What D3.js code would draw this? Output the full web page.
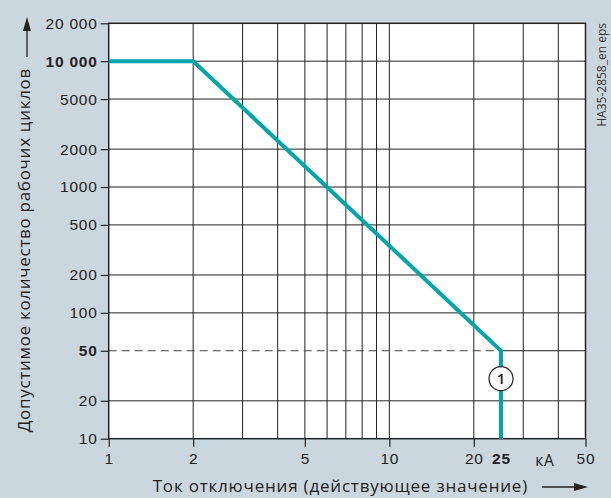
<!DOCTYPE html>
<html>
<head>
<meta charset="utf-8">
<script src="https://cdn.jsdelivr.net/npm/d3@7"></script>
<style>
  body { margin: 0; background: #cbd7df; }
  svg { display: block; font-family: "Open Sans", sans-serif; }
</style>
</head>
<body>
<svg id="chart" width="611" height="498"></svg>
<script>
// curve: breaking current (kA) vs permissible operating cycles
const currentKA = [1, 2, 25, 25];
const cycles = [10000, 10000, 50, 10];

const xTicks = [1, 2, 5, 10, 20, 25, 50];
const xGrid = [2, 3, 4, 5, 6, 7, 8, 9, 10, 20, 30, 40];
const yTicks = [10, 20, 50, 100, 200, 500, 1000, 2000, 5000, 10000, 20000];
const boldX = [25];
const boldY = [50, 10000];
const refCycles = 50;
const refCurrent = 25;
const marker = { x: 25, y: 30, label: "1" };

const plotL = 108.7, plotR = 585.5, plotT = 23.3, plotB = 438.7;
const teal = "#00a7aa";
const ink = "#222";

var svg = d3.select("#chart");

var x = d3.scaleLog().domain([1, 50]).range([plotL, plotR]);
var y = d3.scaleLog().domain([10, 20000]).range([plotB, plotT]);

svg.append("rect")
  .attr("x", plotL).attr("y", plotT)
  .attr("width", plotR - plotL).attr("height", plotB - plotT)
  .attr("fill", "#fff");

// vertical grid
svg.append("g")
  .selectAll("line")
  .data(xGrid)
  .enter()
  .append("line")
  .attr("x1", d => x(d)).attr("x2", d => x(d))
  .attr("y1", plotT).attr("y2", plotB)
  .attr("stroke", ink).attr("stroke-width", 1);

// horizontal grid (50 is drawn solid only right of 25 kA)
svg.append("g")
  .selectAll("line")
  .data(yTicks.filter(d => d > 10 && d < 20000))
  .enter()
  .append("line")
  .attr("x1", d => d == refCycles ? x(refCurrent) : plotL)
  .attr("x2", plotR)
  .attr("y1", d => y(d)).attr("y2", d => y(d))
  .attr("stroke", ink).attr("stroke-width", 1);

svg.append("line")
  .attr("x1", plotL).attr("x2", x(refCurrent))
  .attr("y1", y(refCycles)).attr("y2", y(refCycles))
  .attr("stroke", "#444").attr("stroke-width", 1)
  .attr("stroke-dasharray", "8,5");

// frame
svg.append("rect")
  .attr("x", plotL).attr("y", plotT)
  .attr("width", plotR - plotL).attr("height", plotB - plotT)
  .attr("fill", "none").attr("stroke", ink).attr("stroke-width", 1.5);

// axes
var yAxis = d3.axisLeft(y)
  .tickValues(yTicks)
  .tickSize(8)
  .tickPadding(3)
  .tickFormat(d => d >= 10000 ? d3.format(",")(d).replace(",", " ") : d);

var gy = svg.append("g")
  .attr("transform", `translate(${plotL},0)`)
  .call(yAxis);
gy.select(".domain").remove();
gy.selectAll(".tick line").attr("stroke", ink).attr("stroke-width", 1.2);
gy.selectAll(".tick text")
  .attr("fill", ink)
  .style("font-size", "15.5px")
  .style("letter-spacing", "0.8px")
  .style("font-weight", d => boldY.includes(d) ? "bold" : "normal");

var xAxis = d3.axisBottom(x)
  .tickValues(xTicks)
  .tickSize(8)
  .tickPadding(6)
  .tickFormat(d => d);

var gx = svg.append("g")
  .attr("transform", `translate(0,${plotB})`)
  .call(xAxis);
gx.select(".domain").remove();
gx.selectAll(".tick line").attr("stroke", ink).attr("stroke-width", 1.2);
gx.selectAll(".tick line").filter(d => boldX.includes(d)).remove();
gx.selectAll(".tick text")
  .attr("fill", ink)
  .style("font-size", "15.5px")
  .style("letter-spacing", "0.8px")
  .style("font-weight", d => boldX.includes(d) ? "bold" : "normal");

svg.append("text")
  .attr("x", 545).attr("y", 466)
  .attr("text-anchor", "middle")
  .attr("fill", ink)
  .style("font-size", "15.5px")
  .style("letter-spacing", "0.8px")
  .text("кА");

// curve
var line = d3.line()
  .x(d => x(d[0]))
  .y(d => y(d[1]));

svg.append("path")
  .datum(d3.zip(currentKA, cycles))
  .attr("d", line)
  .attr("fill", "none")
  .attr("stroke", teal)
  .attr("stroke-width", 4)
  .attr("stroke-linejoin", "miter");

// marker
var m = svg.append("g")
  .attr("transform", `translate(${x(marker.x)},${y(marker.y)})`);
m.append("circle")
  .attr("r", 12)
  .attr("fill", "#fff")
  .attr("stroke", ink)
  .attr("stroke-width", 1.2);
m.append("text")
  .attr("text-anchor", "middle")
  .attr("dy", "0.36em")
  .attr("fill", ink)
  .style("font-size", "15px")
  .style("font-weight", "600")
  .text(marker.label);

// axis titles
svg.append("text")
  .attr("transform", "translate(30,68) rotate(-90)")
  .attr("text-anchor", "end")
  .attr("fill", ink)
  .style("font-size", "17px")
  .style("letter-spacing", "0.7px")
  .text("Допустимое количество рабочих циклов");

svg.append("line")
  .attr("x1", 27).attr("x2", 27)
  .attr("y1", 57).attr("y2", 30)
  .attr("stroke", ink).attr("stroke-width", 1.3);
svg.append("path")
  .attr("d", "M27,17 L31,31 L23,31 Z")
  .attr("fill", ink);

svg.append("text")
  .attr("x", 152.7).attr("y", 492)
  .attr("fill", ink)
  .style("font-size", "17px")
  .style("letter-spacing", "0.8px")
  .text("Ток отключения (действующее значение)");

svg.append("line")
  .attr("x1", 542).attr("x2", 575)
  .attr("y1", 487).attr("y2", 487)
  .attr("stroke", ink).attr("stroke-width", 1.3);
svg.append("path")
  .attr("d", "M588,487 L574,483 L574,491 Z")
  .attr("fill", ink);

// figure code
svg.append("text")
  .attr("transform", "translate(606,23) rotate(-90)")
  .attr("text-anchor", "end")
  .attr("fill", "#333")
  .style("font-size", "12px")
  .text("HA35-2858_en eps");
</script>
</body>
</html>
